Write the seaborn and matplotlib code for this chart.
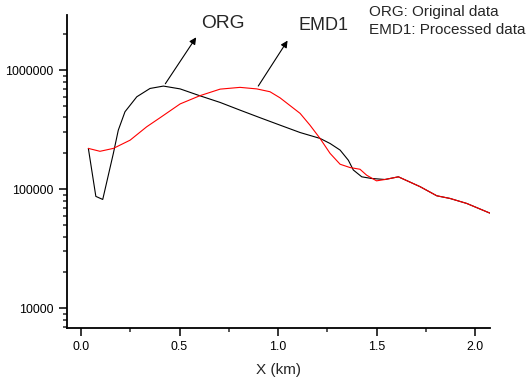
import matplotlib
matplotlib.use("Agg")
import matplotlib.pyplot as plt
import seaborn as sns
import pandas as pd
import numpy as np
from matplotlib.ticker import LogLocator, MultipleLocator, FixedLocator, NullFormatter

sns.set_style("ticks")
plt.rcParams['font.family'] = ['Liberation Sans', 'DejaVu Sans']

# ORG (original data)
x_org = [0.037, 0.075, 0.110, 0.164, 0.189, 0.223, 0.283, 0.350, 0.418, 0.503, 0.604,
         0.706, 0.807, 0.909, 1.010, 1.112, 1.213, 1.264, 1.315, 1.357, 1.382, 1.425,
         1.475, 1.543, 1.611, 1.721, 1.806, 1.873, 1.958, 2.075]
y_org = [220e3, 87e3, 82e3, 200e3, 313e3, 447e3, 597e3, 701e3, 734e3, 695e3, 608e3,
         535e3, 461e3, 398e3, 345e3, 299e3, 267e3, 242e3, 213e3, 175e3, 145e3, 127e3,
         123e3, 120.6e3, 127e3, 105e3, 88e3, 83.6e3, 75.9e3, 63e3]

# EMD1 (processed data)
x_emd = [0.037, 0.096, 0.164, 0.249, 0.333, 0.401, 0.503, 0.604, 0.706, 0.807, 0.892,
         0.959, 1.010, 1.112, 1.162, 1.213, 1.264, 1.315, 1.365, 1.416, 1.450, 1.500,
         1.543, 1.611, 1.721, 1.806, 1.873, 1.958, 2.075]
y_emd = [220e3, 208e3, 220e3, 258e3, 334e3, 398e3, 520e3, 610e3, 692e3, 716e3, 695e3,
         658e3, 585e3, 433e3, 345e3, 267e3, 200e3, 162e3, 152e3, 147e3, 131e3, 117.5e3,
         120.6e3, 127e3, 105e3, 88e3, 83.6e3, 75.9e3, 63e3]

x_ticks = [0.0, 0.5, 1.0, 1.5, 2.0]
y_ticks = [10000, 100000, 1000000]

df_org = pd.DataFrame({"x": x_org, "y": y_org})
df_emd = pd.DataFrame({"x": x_emd, "y": y_emd})

fig = plt.figure(figsize=(5.28, 3.83), dpi=100)
ax = fig.add_axes([0.1263, 0.1436, 0.928 - 0.1263, 0.9608 - 0.1436])

sns.lineplot(data=df_org, x="x", y="y", ax=ax, color="black", linewidth=0.8, sort=False)
sns.lineplot(data=df_emd, x="x", y="y", ax=ax, color="red", linewidth=0.8, sort=False)

ax.set_yscale("log")
ax.set_xlim(-0.073, 2.076)
ax.set_ylim(6830, 2.9e6)

ax.xaxis.set_major_locator(FixedLocator(x_ticks))
ax.xaxis.set_minor_locator(MultipleLocator(0.25))
ax.set_xticklabels([f"{v:.1f}" for v in x_ticks])
ax.yaxis.set_major_locator(FixedLocator(y_ticks))
ax.yaxis.set_minor_locator(LogLocator(base=10, subs=np.arange(2, 10)))
ax.yaxis.set_minor_formatter(NullFormatter())
ax.set_yticklabels([str(v) for v in y_ticks])

ax.tick_params(axis="both", which="major", direction="out", length=6, width=1.1,
               labelsize=8.9, colors="black")
ax.tick_params(axis="both", which="minor", direction="out", length=3, width=1.1)
for s in ["top", "right"]:
    ax.spines[s].set_visible(False)
for s in ["left", "bottom"]:
    ax.spines[s].set_linewidth(1.3)
    ax.spines[s].set_color("black")

ax.set_xlabel("X (km)", fontsize=11, labelpad=7)
ax.set_ylabel("")

arrowprops = dict(arrowstyle="-|>", color="black", lw=0.8, mutation_scale=10)
ax.annotate("", xy=(0.592, 1.97e6), xytext=(0.42, 734e3), arrowprops=arrowprops)
ax.annotate("", xy=(1.056, 1.85e6), xytext=(0.892, 702e3), arrowprops=arrowprops)

fig.text(223 / 528, 1 - 23 / 383, "ORG", fontsize=13.8, ha="center", va="center")
fig.text(324 / 528, 1 - 25 / 383, "EMD1", fontsize=13, ha="center", va="center")
fig.text(369 / 528, 1 - 12 / 383, "ORG: Original data", fontsize=11, ha="left", va="center")
fig.text(369 / 528, 1 - 30 / 383, "EMD1: Processed data", fontsize=11, ha="left", va="center")

fig.savefig("out.png", dpi=100)
